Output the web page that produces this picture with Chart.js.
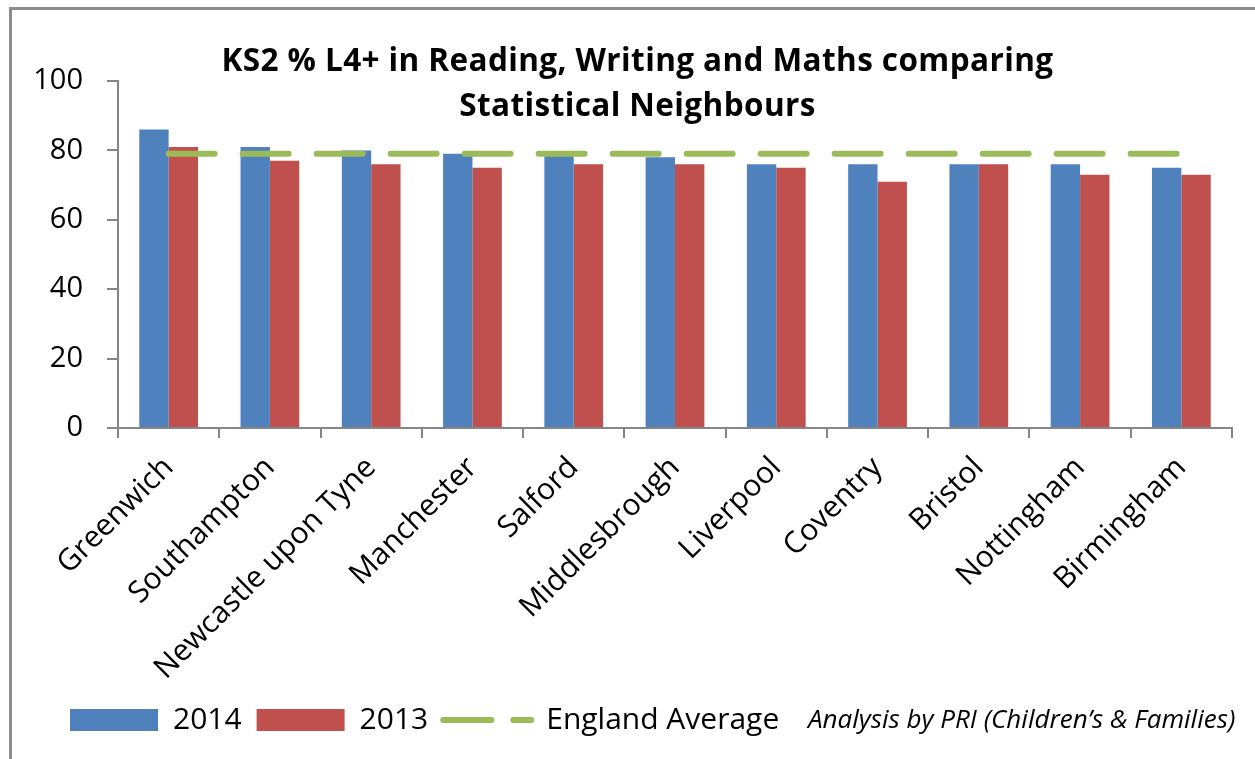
<!DOCTYPE html>
<html><head><meta charset="utf-8">
<script src="https://cdn.jsdelivr.net/npm/chart.js@4"></script>
<style>
body{margin:0;background:#fff;}
#wrap{position:relative;width:1255px;height:759px;overflow:hidden;background:#fff;}
#frame{position:absolute;left:9px;top:7px;width:1300px;height:800px;border:3px solid #8c8c8c;box-sizing:border-box;}
#title{position:absolute;left:0;width:1275px;top:36px;text-align:center;font:bold 31.5px 'Open Sans';letter-spacing:0.4px;line-height:45px;color:#000;}
#note{position:absolute;left:808px;top:700px;font:italic 26px 'Open Sans';line-height:36px;color:#000;white-space:nowrap;}
canvas{position:absolute;left:0;top:0;}
</style></head>
<body>
<div id="wrap">
<div id="frame"></div>
<canvas id="c" width="1255" height="759"></canvas>
<div id="title">KS2 % L4+ in Reading, Writing and Maths comparing<br>Statistical Neighbours</div>
<div id="note">Analysis by PRI (Children’s &amp; Families)</div>
</div>
<script>
const categories = ["Greenwich","Southampton","Newcastle upon Tyne","Manchester","Salford","Middlesbrough","Liverpool","Coventry","Bristol","Nottingham","Birmingham"];
const values2014 = [86,81,80,79,79,78,76,76,76,76,75];
const values2013 = [81,77,76,75,76,76,75,71,76,73,73];
const englandAverage = [79,79,79,79,79,79,79,79,79,79,79];
const seriesNames = ["2014","2013","England Average"];
const yTickMin = 0, yTickMax = 100, yTickStep = 20;

const BLUE = '#4F81BD', RED = '#C0504D', GREEN = '#9BBB59', AXIS = '#868686';
const FONT = "'Open Sans'";

const legendShift = {
  id: 'legendShift',
  afterLayout(chart) {
    const lg = chart.legend;
    if (lg) { lg.left += 22; lg.right += 22; }
  }
};

new Chart(document.getElementById('c'), {
  type: 'bar',
  data: {
    labels: categories,
    datasets: [
      {type:'line', label: seriesNames[2], data: englandAverage, borderColor: GREEN, backgroundColor: GREEN,
       borderWidth: 6, borderDash: [46, 28], borderCapStyle: 'round', pointRadius: 0, fill: false, order: 0},
      {label: seriesNames[0], data: values2014, backgroundColor: BLUE, borderWidth: 0,
       categoryPercentage: 0.58, barPercentage: 1.0, order: 1},
      {label: seriesNames[1], data: values2013, backgroundColor: RED, borderWidth: 0,
       categoryPercentage: 0.58, barPercentage: 1.0, order: 1}
    ]
  },
  plugins: [legendShift],
  options: {
    responsive: false,
    animation: false,
    layout: {padding: {left: 33, right: 23, top: 81, bottom: 14}},
    plugins: {
      tooltip: {enabled: false},
      legend: {
        position: 'bottom',
        align: 'start',
        labels: {
          font: {family: FONT, size: 30},
          color: '#000',
          usePointStyle: true,
          pointStyleWidth: 88,
          boxWidth: 88,
          boxHeight: 22,
          padding: 15,
          sort: (a, b) => {
            const ord = {"2014":0, "2013":1, "England Average":2};
            return ord[a.text] - ord[b.text];
          },
          generateLabels: (chart) => {
            const items = Chart.defaults.plugins.legend.labels.generateLabels(chart);
            items.forEach(it => {
              if (it.text === seriesNames[2]) {
                it.pointStyle = 'line';
                it.strokeStyle = GREEN;
                it.lineWidth = 6;
                it.lineDash = [48, 22];
                it.lineCap = 'round';
              } else {
                it.pointStyle = 'rect';
                it.lineWidth = 0;
              }
            });
            return items;
          }
        }
      }
    },
    scales: {
      x: {
        offset: true,
        border: {color: AXIS, width: 2},
        grid: {display: true, drawOnChartArea: false, drawTicks: true, tickLength: 10, color: AXIS, lineWidth: 2, offset: true},
        ticks: {font: {family: FONT, size: 30}, color: '#000', minRotation: 45, maxRotation: 45, padding: 12, autoSkip: false},
        afterFit: (s) => { s.height = 262; }
      },
      y: {
        min: yTickMin, max: yTickMax,
        border: {color: AXIS, width: 2},
        grid: {display: true, drawOnChartArea: false, drawTicks: true, tickLength: 11, color: AXIS, lineWidth: 2},
        ticks: {stepSize: yTickStep, font: {family: FONT, size: 29}, color: '#000', padding: 24},
        afterFit: (s) => { s.width = 85; }
      }
    }
  }
});
</script>
</body></html>
